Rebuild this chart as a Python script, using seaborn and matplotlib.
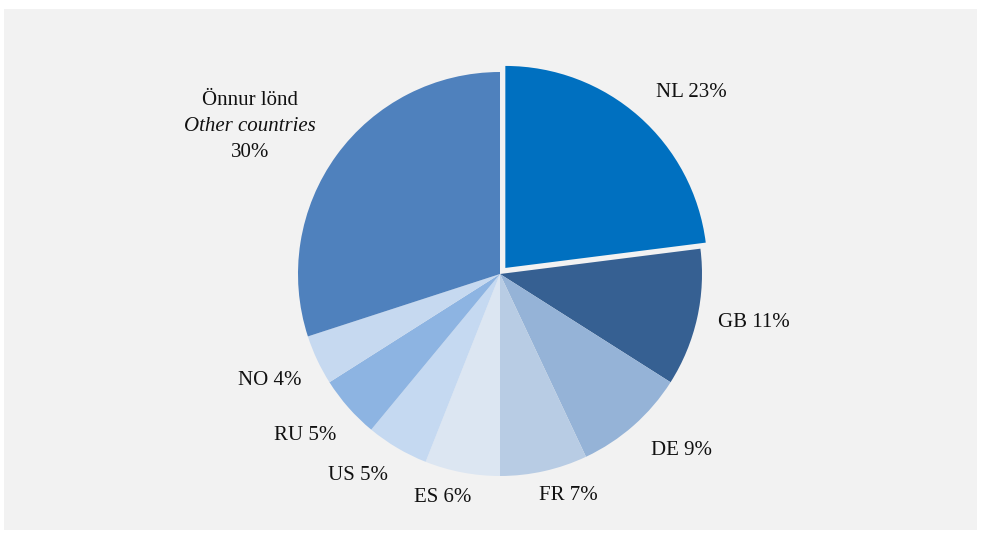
import matplotlib
matplotlib.use("Agg")
import matplotlib.pyplot as plt
import seaborn as sns
import numpy as np
from matplotlib.patches import Rectangle

sns.set_theme(style="white")
plt.rcParams['font.family'] = ['Liberation Serif', 'DejaVu Serif']

codes = ["NL", "GB", "DE", "FR", "ES", "US", "RU", "NO", "Önnur lönd"]
values = [23, 11, 9, 7, 6, 5, 5, 4, 30]
colors = ["#0070c0", "#366092", "#95b3d7", "#b8cce4", "#dce6f2",
          "#c5d9f1", "#8db4e2", "#c6d9f0", "#4f81bd"]
explode = [0.04, 0, 0, 0, 0, 0, 0, 0, 0]
# label placement style: radius (in pie radii) and angular nudge (degrees)
label_radius = [1.306, 1.28, 1.25, 1.145, 1.14, 1.22, 1.255, 1.256, 1.505]
label_nudge = [-5.0, 1.9, 4.4, 4.5, -3.5, -4.5, -1.7, -0.3, 1.3]
other_en = "Other countries"

labels = [f"{c} {v}%" for c, v in zip(codes, values)]
labels[-1] = codes[-1]

W, H = 981, 533
fig = plt.figure(figsize=(W / 100, H / 100), dpi=100)
fig.patch.set_facecolor("white")
bg = Rectangle((4 / W, 3 / H), 973 / W, 521 / H, transform=fig.transFigure,
               facecolor="#f2f2f2", edgecolor="none", zorder=-5)
fig.add_artist(bg)

cx, cy, r = 500, 533 - 274, 202
half = 262
ax = fig.add_axes([(cx - half) / W, (cy - half) / H, 2 * half / W, 2 * half / H])
ax.set_zorder(1)
ax.set_facecolor("none")

wedges, texts = ax.pie(values, labels=labels, colors=colors, explode=explode,
                       startangle=90, counterclock=False, labeldistance=1.2,
                       wedgeprops=dict(linewidth=0),
                       textprops=dict(fontsize=15, color="#111111"))
lim = half / r
ax.set_xlim(-lim, lim)
ax.set_ylim(-lim, lim)
ax.set_aspect("auto")
ax.axis("off")

for w, t, rr, dn in zip(wedges, texts, label_radius, label_nudge):
    theta = np.deg2rad((w.theta1 + w.theta2) / 2 + dn)
    t.set_position((rr * np.cos(theta), rr * np.sin(theta)))
    t.set_ha("center")
    t.set_va("center")

tx, ty = texts[-1].get_position()
ax.annotate(other_en, (tx, ty), xytext=(0, -18.4), textcoords="offset points",
            fontsize=15, fontstyle="italic", color="#111111", ha="center", va="center")
ax.annotate(f"{values[-1]}%", (tx, ty), xytext=(0, -36.8), textcoords="offset points",
            fontsize=15, color="#111111", ha="center", va="center")

fig.savefig("out.png", dpi=100, facecolor="white")
